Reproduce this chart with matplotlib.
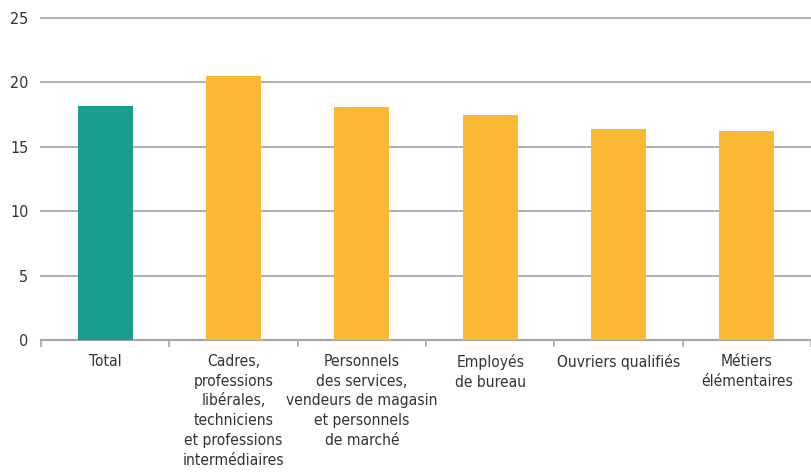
import numpy as np
import matplotlib.pyplot as plt

plt.rcParams['font.family'] = ['DejaVu Sans']
plt.rcParams['font.stretch'] = 'condensed'

categories = [
    "Total",
    "Cadres,\nprofessions\nlibérales,\ntechniciens\net professions\nintermédiaires",
    "Personnels\ndes services,\nvendeurs de magasin\net personnels\nde marché",
    "Employés\nde bureau",
    "Ouvriers qualifiés",
    "Métiers\nélémentaires",
]
values = [18.2, 20.5, 18.1, 17.5, 16.4, 16.2]
colors = ["#1a9c8e", "#fbb832", "#fbb832", "#fbb832", "#fbb832", "#fbb832"]

fig = plt.figure(figsize=(8.11, 4.73), dpi=100)
ax = fig.add_axes([0.0506, 0.2812, 0.9494, 0.6808])

x = np.arange(len(categories))
ax.bar(x, values, width=0.43, color=colors, zorder=3)

ax.set_xlim(-0.5, len(categories) - 0.5)
ax.set_ylim(0, 25)
ax.set_yticks(np.arange(0, 26, 5))
ax.yaxis.grid(True, color="#b3b3b3", linewidth=1.5, zorder=0)
# keep the top gridline at full width instead of half clipped
for gl in ax.get_ygridlines():
    gl.set_clip_on(False)

for s in ["top", "right", "left"]:
    ax.spines[s].set_visible(False)
ax.spines["bottom"].set_color("#a6a6a6")
ax.spines["bottom"].set_linewidth(1.5)

ax.tick_params(axis="y", length=0, labelsize=11.5, labelcolor="#333333", pad=9)
ax.set_xticks(np.arange(-0.5, len(categories)), minor=False)
ax.set_xticklabels([])
ax.tick_params(axis="x", which="major", length=5, width=1.2, color="#a6a6a6")
ax.set_xticks(x, minor=True)
ax.set_xticklabels(categories, minor=True, fontsize=11.2, color="#333333",
                   linespacing=1.4, va="top")
ax.tick_params(axis="x", which="minor", length=0, pad=10)

fig.savefig("out.png", dpi=100)
